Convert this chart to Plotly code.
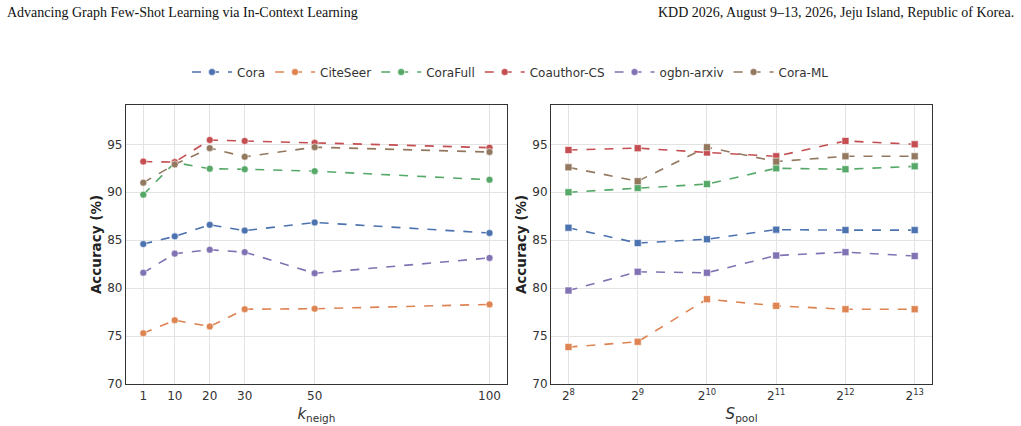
import plotly.graph_objects as go

k_neigh = [1, 10, 20, 30, 50, 100]
pool_labels = ["2<sup>8</sup>", "2<sup>9</sup>", "2<sup>10</sup>", "2<sup>11</sup>", "2<sup>12</sup>", "2<sup>13</sup>"]
pool_pos = [0, 1, 2, 3, 4, 5]
y_ticks = [70, 75, 80, 85, 90, 95]

datasets = ["Cora", "CiteSeer", "CoraFull", "Coauthor-CS", "ogbn-arxiv", "Cora-ML"]
colors = ["#4C72B0", "#DD8452", "#55A868", "#C44E52", "#8172B3", "#937860"]

cora_k = [84.6, 85.4, 86.6, 86.0, 86.85, 85.75]
citeseer_k = [75.3, 76.65, 76.0, 77.8, 77.85, 78.3]
corafull_k = [89.75, 93.1, 92.45, 92.4, 92.2, 91.3]
coauthor_k = [93.2, 93.15, 95.45, 95.35, 95.15, 94.65]
arxiv_k = [81.6, 83.6, 84.0, 83.75, 81.55, 83.15]
coraml_k = [91.0, 92.9, 94.6, 93.7, 94.7, 94.2]

cora_p = [86.3, 84.7, 85.1, 86.1, 86.05, 86.05]
citeseer_p = [73.85, 74.4, 78.85, 78.15, 77.8, 77.8]
corafull_p = [90.0, 90.45, 90.85, 92.5, 92.4, 92.7]
coauthor_p = [94.4, 94.6, 94.15, 93.75, 95.35, 95.0]
arxiv_p = [79.75, 81.7, 81.6, 83.4, 83.75, 83.35]
coraml_p = [92.6, 91.15, 94.7, 93.2, 93.75, 93.75]

k_series = [cora_k, citeseer_k, corafull_k, coauthor_k, arxiv_k, coraml_k]
p_series = [cora_p, citeseer_p, corafull_p, coauthor_p, arxiv_p, coraml_p]

fig = go.Figure()
for name, col, yk, yp in zip(datasets, colors, k_series, p_series):
    fig.add_trace(go.Scatter(
        x=k_neigh, y=yk, name=name, mode="lines+markers",
        line=dict(color=col, width=1.6, dash="dash"),
        marker=dict(symbol="circle", size=7, color=col, line=dict(color="white", width=0.6)),
        xaxis="x", yaxis="y", legendgroup=name, showlegend=True))
    fig.add_trace(go.Scatter(
        x=pool_pos, y=yp, name=name, mode="lines+markers",
        line=dict(color=col, width=1.6, dash="dash"),
        marker=dict(symbol="square", size=7, color=col, line=dict(color="white", width=0.6)),
        xaxis="x2", yaxis="y2", legendgroup=name, showlegend=False))

tickfont = dict(family="DejaVu Sans", size=12, color="#333333")
axis_common = dict(showline=True, linecolor="#333333", linewidth=1.3, mirror=True,
                   showgrid=True, gridcolor="#e3e3e3", gridwidth=1, zeroline=False,
                   ticks="", tickfont=tickfont, automargin=False)

L = 0.4725
ytitle = dict(text="<b>Accuracy (%)</b>", font=dict(family="DejaVu Sans", size=13.5, color="#222222"), standoff=2)
fig.update_layout(
    width=1021, height=426,
    margin=dict(l=126, r=89, t=105, b=42),
    paper_bgcolor="white", plot_bgcolor="white",
    font=dict(family="DejaVu Sans", color="#333333"),
    xaxis=dict(domain=[0, L], range=[-3.95, 104.95], tickvals=k_neigh,
               ticktext=[str(v) for v in k_neigh],
               title=dict(text="<i>k</i><sub>neigh</sub>", font=dict(size=15, color="#333333"), standoff=6),
               **axis_common),
    yaxis=dict(domain=[0, 1], range=[70, 99.1], tickvals=y_ticks, title=ytitle,
               anchor="x", **axis_common),
    xaxis2=dict(domain=[1 - L, 1], range=[-0.25, 5.25], tickvals=pool_pos, ticktext=pool_labels,
                title=dict(text="<i>S</i><sub>pool</sub>", font=dict(size=15, color="#333333"), standoff=6),
                anchor="y2", **axis_common),
    yaxis2=dict(domain=[0, 1], range=[70, 99.1], tickvals=y_ticks, title=ytitle,
                anchor="x2", **axis_common),
    legend=dict(orientation="h", xref="container", x=0.5, xanchor="center",
                yref="container", y=1 - 72 / 426, yanchor="middle",
                font=dict(family="DejaVu Sans", size=12, color="#333333"),
                itemwidth=40, traceorder="normal", bgcolor="rgba(0,0,0,0)"),
    showlegend=True,
)

fig.add_annotation(text="Advancing Graph Few-Shot Learning via In-Context Learning",
                   xref="paper", yref="paper", x=(5 - 126) / 805.7, y=(384 - 12) / 279,
                   xanchor="left", yanchor="middle", showarrow=False,
                   font=dict(family="Liberation Serif", size=14, color="#111111"))
fig.add_annotation(text="KDD 2026, August 9–13, 2026, Jeju Island, Republic of Korea.",
                   xref="paper", yref="paper", x=(1016 - 126) / 805.7, y=(384 - 12) / 279,
                   xanchor="right", yanchor="middle", showarrow=False,
                   font=dict(family="Liberation Serif", size=14, color="#111111"))

fig.write_html("out.html")
